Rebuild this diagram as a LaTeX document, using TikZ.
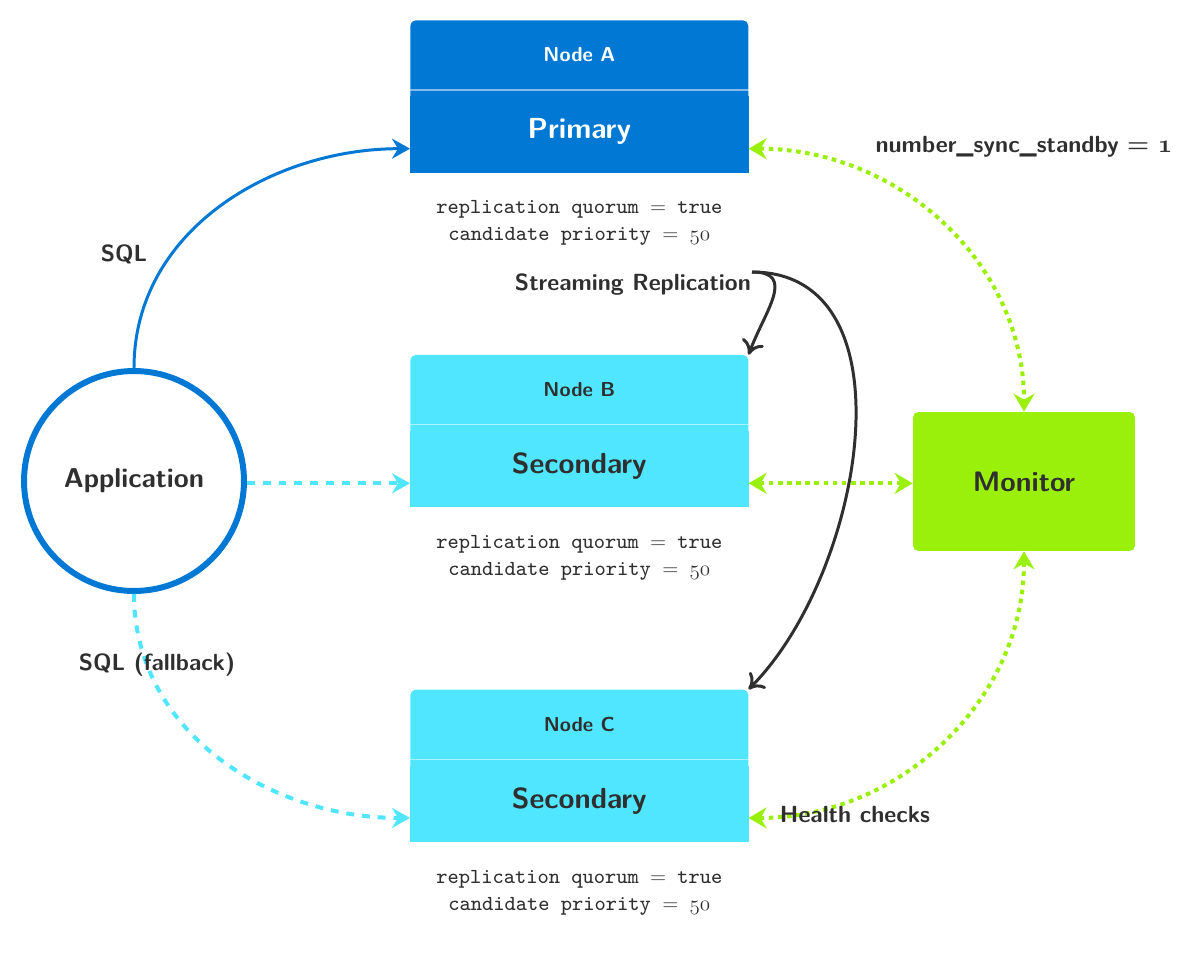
\documentclass[tikz,border=0pt]{standalone}
\usepackage{fontspec}
\usetikzlibrary{arrows.meta,positioning}
\definecolor{clusterBlue}{RGB}{0,120,212}
\definecolor{clusterCyan}{RGB}{80,230,255}
\definecolor{clusterGreen}{RGB}{155,240,11}
\definecolor{clusterInk}{RGB}{47,47,47}
\newfontfamily\confmono{lmmono9-regular.otf}
\newcommand{\osnum}[1]{{\usefont{OML}{cmm}{m}{it}#1}}
\newcommand{\osnumbold}[1]{{\usefont{OML}{cmm}{b}{it}#1}}

\begin{document}
\begin{tikzpicture}[x=0.02cm,y=0.02cm,
  dbbox/.style={rounded corners=3pt,minimum width=6.76cm,minimum height=3.04cm,inner sep=0pt},
  head/.style={font=\sffamily\bfseries\fontsize{11.5}{13}\selectfont},
  role/.style={font=\sffamily\bfseries\fontsize{16.5}{19}\selectfont},
  conf/.style={font=\confmono\fontsize{12.2}{15.3}\selectfont,align=center,text=clusterInk},
  lbl/.style={font=\sffamily\bfseries\boldmath\fontsize{13.3}{16}\selectfont,text=clusterInk,inner sep=1pt},
  divider/.style={white,opacity=0.5,line width=0.8pt},
  sql/.style={-{Stealth[length=3.6mm,width=4mm,inset=1.2mm]},line width=1.7pt,clusterBlue},
  fallback/.style={-{Stealth[length=3.6mm,width=4mm,inset=1.2mm]},line width=2.3pt,clusterCyan,dash pattern=on 4.5pt off 4.5pt},
  health/.style={{Stealth[length=3.6mm,width=4.2mm,inset=1.2mm]}-{Stealth[length=3.6mm,width=4.2mm,inset=1.2mm]},line width=2.3pt,clusterGreen,dash pattern=on 2.6pt off 2.6pt},
  repl/.style={-{To[length=2.8mm,width=4.6mm]},line width=1.7pt,clusterInk}
]
  \useasboundingbox (0,0) rectangle (1200,-964);

  % database nodes
  \node[dbbox,fill=clusterBlue,anchor=north west] (nodeA) at (410,-20) {};
  \fill[clusterBlue] (nodeA.west) rectangle (nodeA.south east);
  \draw[divider] ([yshift=-1.4cm]nodeA.north west) -- ([yshift=-1.4cm]nodeA.north east);
  \node[head,text=white] (headA) at ([yshift=-0.7cm]nodeA.north) {Node A};
  \node[role,text=white] (roleA) at ([yshift=0.82cm]nodeA.south) {Primary};
  \node[conf] (confA) at ([yshift=-1.01cm]nodeA.south) {replication quorum $=$ true\\candidate priority $=$ \osnum{50}};

  \node[dbbox,fill=clusterCyan,below=3.64cm of nodeA] (nodeB) {};
  \fill[clusterCyan] (nodeB.west) rectangle (nodeB.south east);
  \draw[divider] ([yshift=-1.4cm]nodeB.north west) -- ([yshift=-1.4cm]nodeB.north east);
  \node[head,text=clusterInk] (headB) at ([yshift=-0.7cm]nodeB.north) {Node B};
  \node[role,text=clusterInk] (roleB) at ([yshift=0.82cm]nodeB.south) {Secondary};
  \node[conf] (confB) at ([yshift=-1.01cm]nodeB.south) {replication quorum $=$ true\\candidate priority $=$ \osnum{50}};

  \node[dbbox,fill=clusterCyan,below=3.64cm of nodeB] (nodeC) {};
  \fill[clusterCyan] (nodeC.west) rectangle (nodeC.south east);
  \draw[divider] ([yshift=-1.4cm]nodeC.north west) -- ([yshift=-1.4cm]nodeC.north east);
  \node[head,text=clusterInk] (headC) at ([yshift=-0.7cm]nodeC.north) {Node C};
  \node[role,text=clusterInk] (roleC) at ([yshift=0.82cm]nodeC.south) {Secondary};
  \node[conf] (confC) at ([yshift=-1.01cm]nodeC.south) {replication quorum $=$ true\\candidate priority $=$ \osnum{50}};

  % application and monitor
  \node[circle,draw=clusterBlue,line width=3.4pt,minimum size=4.4cm,inner sep=0pt,
        font=\sffamily\bfseries\fontsize{15.5}{18}\selectfont,text=clusterInk] (app) at (134,-481) {Application};
  \node[rounded corners=3pt,fill=clusterGreen,minimum width=4.44cm,minimum height=2.78cm,
        font=\sffamily\bfseries\fontsize{16}{18}\selectfont,text=clusterInk] (monitor) at (1024,-481.5) {Monitor};

  \coordinate (inA) at ([yshift=0.48cm]nodeA.south west);
  \coordinate (inB) at ([yshift=0.48cm]nodeB.south west);
  \coordinate (inC) at ([yshift=0.48cm]nodeC.south west);
  \coordinate (outA) at ([yshift=0.48cm]nodeA.south east);
  \coordinate (outB) at ([yshift=0.48cm]nodeB.south east);
  \coordinate (outC) at ([yshift=0.48cm]nodeC.south east);
  \coordinate (replsrc) at (752,-272);

  % client traffic
  \draw[sql] (app.north) to[out=90,in=180] (inA);
  \draw[fallback] (app.east |- inB) -- (inB);
  \draw[fallback] (app.south) to[out=-90,in=180] (inC);

  % monitor links
  \draw[health] (outA) to[out=0,in=90] (monitor.north);
  \draw[health] (outB) -- (monitor.west |- outB);
  \draw[health] (outC) to[out=0,in=-90] (monitor.south);

  % replication
  \draw[repl] (replsrc) to[out=0,in=70,looseness=1.4] (nodeB.north east);
  \draw[repl] (replsrc) to[out=0,in=45] (nodeC.north east);

  \node[lbl] (sqllbl) at (124,-254) {SQL};
  \node[lbl] (fblbl) at (157,-665) {SQL (fallback)};
  \node[lbl,anchor=east] (repllbl) at (753,-285) {Streaming Replication};
  \node[lbl] (synclbl) at (1024,-147) {number\_sync\_standby $=$ \osnumbold{1}};
  \node[lbl] (hclbl) at (855,-815) {Health checks};
\end{tikzpicture}
\end{document}
